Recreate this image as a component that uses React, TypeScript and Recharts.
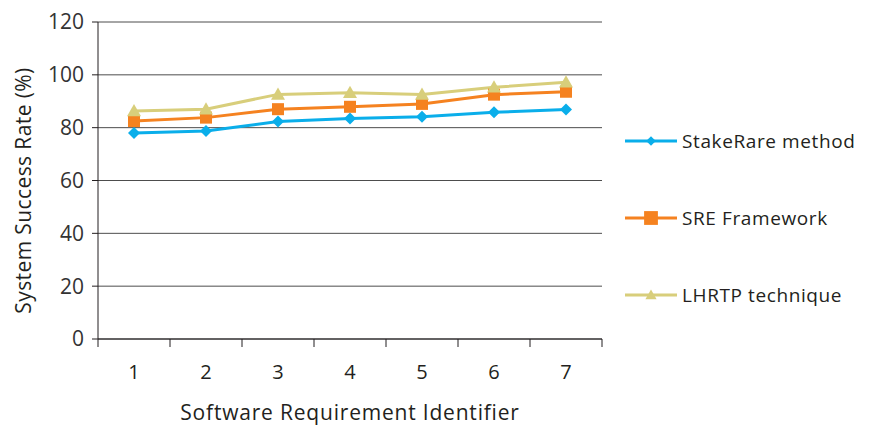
import React from 'react'
import { LineChart, Line, XAxis, YAxis, CartesianGrid, Legend } from 'recharts'

document.body.style.margin = '0'

const requirementIds = [1, 2, 3, 4, 5, 6, 7]
const stakeRare = [78, 78.7, 82.3, 83.5, 84.1, 85.8, 86.9]
const sreFramework = [82.5, 83.8, 87, 87.9, 89, 92.5, 93.6]
const lhrtp = [86.3, 87, 92.6, 93.2, 92.6, 95.3, 97.2]
const yTicks = [0, 20, 40, 60, 80, 100, 120]

const data = requirementIds.map((id, i) => ({
    id,
    stakeRare: stakeRare[i],
    sre: sreFramework[i],
    lhrtp: lhrtp[i]
}))

// tick marks sit between categories, labels at category centres
const xTicks: number[] = [0.5]
requirementIds.forEach((id) => xTicks.push(id, id + 0.5))

const FONT = '"Open Sans", sans-serif'
const TEXT = '#231f20'

const marker = (shape: string, cx: number, cy: number, color: string, s = 1) => {
    if (shape === 'diamond') {
        const r = 6 * s
        return <path d={`M${cx},${cy - r}L${cx + r},${cy}L${cx},${cy + r}L${cx - r},${cy}Z`} fill={color} />
    }
    if (shape === 'square') {
        const r = 6 * s
        return <rect x={cx - r} y={cy - r} width={r * 2} height={r * 2} fill={color} />
    }
    const r = 7 * s
    return <path d={`M${cx},${cy - r}L${cx + r},${cy + r * 0.75}L${cx - r},${cy + r * 0.75}Z`} fill={color} />
}

const series = [
    { key: 'stakeRare', name: 'StakeRare method', color: '#0aaeea', shape: 'diamond' },
    { key: 'sre', name: 'SRE Framework', color: '#f58220', shape: 'square' },
    { key: 'lhrtp', name: 'LHRTP technique', color: '#d8ce7b', shape: 'triangle' }
]

const XTick = (props: any) => {
    const { x, y, payload } = props
    if (Number.isInteger(payload.value)) {
        return (
            <text x={x} y={y + 30} textAnchor="middle" fontSize={20} fontWeight={500} fill={TEXT} fontFamily={FONT}>
                {payload.value}
            </text>
        )
    }
    return <line x1={x} x2={x} y1={y - 10} y2={y - 2} stroke={TEXT} strokeWidth={1} />
}

const LegendContent = () => (
    <div style={{ fontFamily: FONT, fontSize: 19, fontWeight: 500, letterSpacing: 0.6, color: TEXT }}>
        {series.map((s) => (
            <div key={s.key} style={{ display: 'flex', alignItems: 'center', height: 77 }}>
                <svg width={54} height={20}>
                    <line x1={0} x2={52} y1={10} y2={10} stroke={s.color} strokeWidth={3} />
                    {marker(s.shape, 26, 10, s.color, s.shape === 'square' ? 1.15 : 0.8)}
                </svg>
                <span style={{ marginLeft: 3 }}>{s.name}</span>
            </div>
        ))}
    </div>
)

export default function App() {
    return (
        <div style={{ width: 870, height: 425, background: '#fff' }}>
            <LineChart
                width={870}
                height={425}
                data={data}
                margin={{ top: 22, right: 268, bottom: 0, left: 0 }}
            >
                <CartesianGrid vertical={false} stroke="#4d4d4d" />
                <XAxis
                    dataKey="id"
                    type="number"
                    domain={[0.5, 7.5]}
                    ticks={xTicks}
                    interval={0}
                    height={86}
                    tickLine={false}
                    tickSize={8}
                    tickMargin={2}
                    axisLine={{ stroke: TEXT }}
                    tick={<XTick />}
                    label={{
                        content: ({ viewBox }: any) => (
                            <text
                                x={viewBox.x + viewBox.width / 2}
                                y={viewBox.y + 81}
                                textAnchor="middle"
                                fontSize={21}
                                fontWeight={500}
                                letterSpacing={0.8}
                                fill={TEXT}
                                fontFamily={FONT}
                            >
                                Software Requirement Identifier
                            </text>
                        )
                    }}
                />
                <YAxis
                    width={98}
                    domain={[0, 120]}
                    ticks={yTicks}
                    interval={0}
                    tickSize={6}
                    tickMargin={8}
                    axisLine={{ stroke: TEXT }}
                    tickLine={{ stroke: TEXT }}
                    tick={{ fill: '#333', fontSize: 21, fontFamily: FONT }}
                    label={{
                        content: ({ viewBox }: any) => {
                            const cx = viewBox.x + 23
                            const cy = viewBox.y + viewBox.height / 2 + 10
                            return (
                                <text
                                    x={cx}
                                    y={cy}
                                    transform={`rotate(-90, ${cx}, ${cy})`}
                                    textAnchor="middle"
                                    dominantBaseline="central"
                                    fontSize={21}
                                    fontWeight={500}
                                    letterSpacing={0.4}
                                    fill={TEXT}
                                    fontFamily={FONT}
                                >
                                    System Success Rate (%)
                                </text>
                            )
                        }
                    }}
                />
                <Legend
                    layout="vertical"
                    align="center"
                    verticalAlign="middle"
                    content={<LegendContent />}
                    wrapperStyle={{ left: 625, top: 102, width: 245 }}
                />
                {series.map((s) => (
                    <Line
                        key={s.key}
                        dataKey={s.key}
                        name={s.name}
                        stroke={s.color}
                        strokeWidth={3}
                        isAnimationActive={false}
                        dot={(p: any) => <g key={`${s.key}-${p.index}`}>{marker(s.shape, p.cx, p.cy, s.color)}</g>}
                        activeDot={false}
                    />
                ))}
            </LineChart>
        </div>
    )
}
